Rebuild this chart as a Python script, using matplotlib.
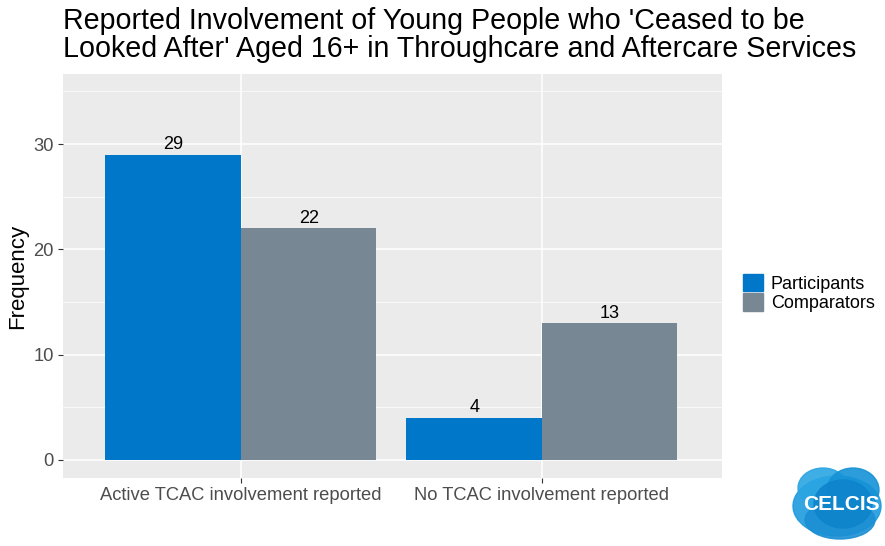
import matplotlib
matplotlib.use("Agg")
import matplotlib.pyplot as plt
from matplotlib.patches import Ellipse
import numpy as np

plt.rcParams["font.family"] = ["Liberation Sans", "DejaVu Sans"]

categories = ["Active TCAC involvement reported", "No TCAC involvement reported"]
groups = ["Participants", "Comparators"]
participants = [29, 4]
comparators = [22, 13]
colors = {"Participants": "#0077C8", "Comparators": "#778894"}
title = ("Reported Involvement of Young People who 'Ceased to be\n"
         "Looked After' Aged 16+ in Throughcare and Aftercare Services")


def main():
    fig = plt.figure(figsize=(8.85, 5.46), dpi=100)
    ax = fig.add_axes([63 / 885, 1 - 478 / 546, (722 - 63) / 885, (478 - 74) / 546])
    ax.set_facecolor("#EBEBEB")

    x = np.arange(1, len(categories) + 1)
    w = 0.45
    series = [participants, comparators]
    for i, (name, vals) in enumerate(zip(groups, series)):
        pos = x - w / 2 + i * w
        ax.bar(pos, vals, width=w, color=colors[name], label=name, zorder=3)
        for p, v in zip(pos, vals):
            ax.text(p, v + 0.15, str(v), ha="center", va="bottom", fontsize=13,
                    color="black", zorder=4)

    ax.set_xlim(0.409, 2.598)
    ax.set_ylim(-1.71, 36.66)
    ax.set_yticks([0, 10, 20, 30])
    ax.set_yticks([5, 15, 25, 35], minor=True)
    ax.set_xticks(x)
    ax.set_xticklabels(categories)
    ax.grid(which="major", color="white", linewidth=1.1, zorder=0)
    ax.grid(which="minor", color="white", linewidth=0.5, zorder=0)
    ax.tick_params(axis="both", which="major", labelsize=13.2, labelcolor="#4D4D4D",
                   color="#333333", length=3.5, width=0.8, pad=3)
    ax.tick_params(axis="both", which="minor", length=0)
    for s in ax.spines.values():
        s.set_visible(False)
    ax.set_ylabel("Frequency", fontsize=16, labelpad=4)

    fig.text(63 / 885, 1 - 7 / 546, title, ha="left", va="top", fontsize=20.6,
             linespacing=1.0)

    handles = [plt.Rectangle((0, 0), 1, 1, color=colors[g]) for g in groups]
    fig.legend(handles, groups, loc="center left", bbox_to_anchor=(743 / 885, 1 - 293 / 546),
               frameon=False, fontsize=13, handlelength=1.1, handleheight=1.1,
               handletextpad=0.45, labelspacing=0.05, borderaxespad=0, borderpad=0)

    # CELCIS logo
    logo = fig.add_axes([785 / 885, 0, 100 / 885, 90 / 546])
    logo.set_xlim(0, 100)
    logo.set_ylim(0, 90)
    logo.axis("off")
    for cx, cy, ew, eh, c in [(52, 40, 88, 60, "#1E9BDD"), (38, 58, 50, 40, "#2AA5E3"),
                              (68, 56, 52, 44, "#1592D6"), (55, 26, 70, 38, "#1B8FD3"),
                              (58, 42, 58, 48, "#0E84CC")]:
        logo.add_patch(Ellipse((cx, cy), ew, eh, color=c, alpha=0.9))
    logo.text(56, 42, "CELCIS", ha="center", va="center", color="white",
              fontsize=15, fontweight="bold")

    fig.savefig("out.png", dpi=100)


if __name__ == "__main__":
    main()
